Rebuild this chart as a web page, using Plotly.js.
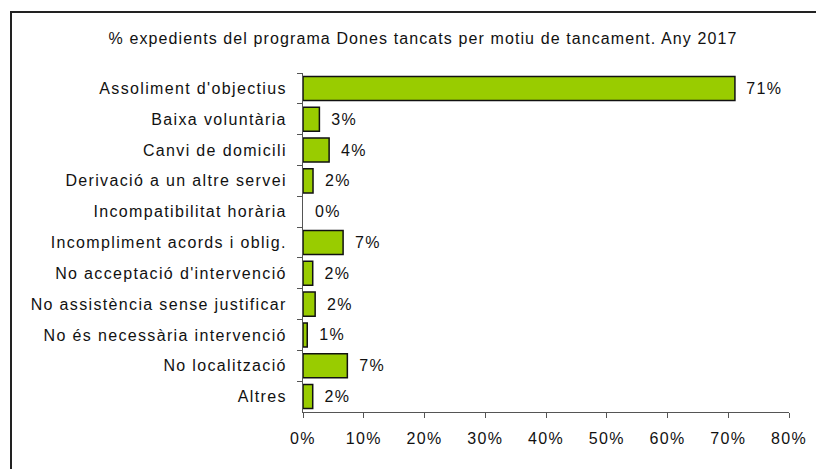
<!DOCTYPE html>
<html>
<head>
<meta charset="utf-8">
<script src="https://cdn.plot.ly/plotly-3.0.1.min.js"></script>
<style>
  html, body { margin: 0; padding: 0; background: #fff; }
  #wrap { position: relative; width: 816px; height: 469px; overflow: hidden; }
  #chart { position: absolute; left: 0; top: 0; width: 816px; height: 469px; }
  #frame { position: absolute; left: 10px; top: 11px; width: 900px; height: 600px;
           border: 2px solid #222; pointer-events: none; box-sizing: border-box; }
  #chart text { letter-spacing: 1.35px; }
  #chart .gtitle { letter-spacing: 1.1px; }
</style>
</head>
<body>
<div id="wrap">
  <div id="chart"></div>
  <div id="frame"></div>
</div>
<script>
const categories = [
  "Assoliment d'objectius",
  "Baixa voluntària",
  "Canvi de domicili",
  "Derivació a un altre servei",
  "Incompatibilitat horària",
  "Incompliment acords i oblig.",
  "No acceptació d'intervenció",
  "No assistència sense justificar",
  "No és necessària intervenció",
  "No localització",
  "Altres"
];
const values = [71.1, 2.7, 4.3, 1.65, 0, 6.6, 1.6, 2.0, 0.7, 7.3, 1.6];
const tickVals = [0, 10, 20, 30, 40, 50, 60, 70, 80];
const tickText = ["0%", "10%", "20%", "30%", "40%", "50%", "60%", "70%", "80%"];
const titleText = "% expedients del programa Dones tancats per motiu de tancament. Any 2017";

const font = "Liberation Sans, Arial, sans-serif";

const trace = {
  type: "bar",
  orientation: "h",
  y: categories,
  x: values,
  marker: {
    color: "#99CC00",
    line: { color: "#111", width: values.map(v => (v > 0 ? 1.5 : 0)) }
  },
  texttemplate: "\u00a0\u00a0%{x:.0f}%",
  textposition: "outside",
  cliponaxis: false,
  textfont: { family: font, size: 16, color: "#111" },
  hoverinfo: "skip"
};

const layout = {
  width: 816,
  height: 469,
  margin: { l: 303, r: 27, t: 73, b: 57 },
  paper_bgcolor: "#fff",
  plot_bgcolor: "#fff",
  bargap: 0.22,
  showlegend: false,
  title: {
    text: titleText,
    font: { family: font, size: 16, color: "#111" },
    x: 423 / 816, xanchor: "center",
    xref: "container",
    y: 1 - 38 / 469, yanchor: "middle", yref: "container"
  },
  xaxis: {
    range: [0, 80],
    tickvals: tickVals,
    ticktext: tickText,
    ticks: "outside",
    ticklen: 5,
    tickcolor: "#555",
    showline: true,
    linecolor: "#555",
    linewidth: 1,
    showgrid: false,
    zeroline: false,
    ticklabelstandoff: 7,
    tickfont: { family: font, size: 16, color: "#111" },
    fixedrange: true
  },
  yaxis: {
    type: "category",
    autorange: "reversed",
    ticks: "outside",
    tickson: "boundaries",
    ticklen: 5,
    tickcolor: "#555",
    showline: true,
    linecolor: "#555",
    linewidth: 1,
    showgrid: false,
    zeroline: false,
    ticklabelstandoff: 12,
    tickfont: { family: font, size: 16, color: "#111" },
    fixedrange: true
  }
};

Plotly.newPlot("chart", [trace], layout, { staticPlot: true, displayModeBar: false });
</script>
</body>
</html>
